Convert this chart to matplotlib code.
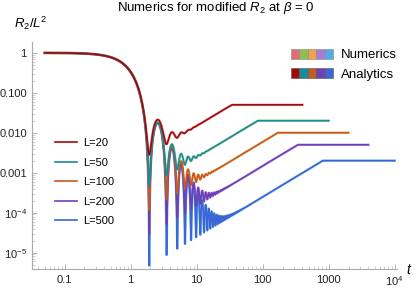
import numpy as np
import matplotlib
matplotlib.use("Agg")
import matplotlib.pyplot as plt
from matplotlib.patches import Patch
from matplotlib.legend_handler import HandlerTuple

plt.rcParams['font.family'] = ['Liberation Sans', 'DejaVu Sans']
plt.rcParams['mathtext.fontset'] = 'custom'
plt.rcParams['mathtext.rm'] = 'Liberation Sans'
plt.rcParams['mathtext.it'] = 'Liberation Sans:italic'

# values
L_values = [20, 50, 100, 200, 500]
labels = ["L=20", "L=50", "L=100", "L=200", "L=500"]
plateau = [0.05, 0.02, 0.01, 0.005, 0.002]      # R2/L^2 at late times
t_plateau = [34, 84, 169, 339, 810]              # end of the linear ramp
t_end = [400, 1000, 2000, 4000, 10000]           # last time plotted
t_start = 0.05

analytic_colors = ["#a00a0a", "#178c9c", "#c45b20", "#6e40b5", "#3a66d6"]
numeric_colors = ["#e46a78", "#8cc152", "#f5a04c", "#a97bd9", "#4daee0"]


def bessel_j1(x):
    # J1 from its integral form, trapezoid on a periodic integrand
    tau = np.linspace(0, 2 * np.pi, 1024, endpoint=False)
    out = np.zeros_like(x)
    for i in range(0, len(x), 1000):
        xs = x[i:i + 1000]
        out[i:i + 1000] = np.mean(np.cos(tau[None, :] - xs[:, None] * np.sin(tau[None, :])), axis=1)
    return out


t = np.geomspace(t_start, max(t_end), 12000)
decay = np.zeros_like(t)
early = t <= 200
decay[early] = (bessel_j1(2 * t[early]) / t[early]) ** 2

fig = plt.figure(figsize=(4.15, 2.94), dpi=100)
ax = fig.add_axes([0.078, 0.085, 0.879, 0.772])

for i, L in enumerate(L_values):
    m = t <= t_end[i]
    ramp = plateau[i] * np.minimum(t[m] / t_plateau[i], 1.0)
    r = decay[m] + ramp
    ax.plot(t[m], r, color=numeric_colors[i], lw=1.8, alpha=0.6, zorder=2 - 0.1 * i)
    ax.plot(t[m], r, color=analytic_colors[i], lw=1.2, zorder=3 - 0.1 * i, label=labels[i])

ax.set_xscale('log')
ax.set_yscale('log')
ax.set_xlim(0.0325, 10900)
ax.set_ylim(10 ** -5.41, 10 ** 0.27)

ax.set_xticks([0.1, 1, 10, 100, 1000, 10000])
ax.set_xticklabels(["0.1", "1", "10", "100", "1000", "$10^4$"])
ax.set_yticks([1, 0.1, 0.01, 0.001, 1e-4, 1e-5])
ax.set_yticklabels(["1", "0.100", "0.010", "0.001", "$10^{-4}$", "$10^{-5}$"])

for s in ['top', 'right']:
    ax.spines[s].set_visible(False)
for s in ['left', 'bottom']:
    ax.spines[s].set_color('#aaaaaa')
    ax.spines[s].set_linewidth(0.8)
ax.tick_params(which='major', direction='in', length=3.5, width=0.6, color='#aaaaaa',
               labelsize=8, pad=4, labelcolor='#222222')
ax.tick_params(which='minor', direction='in', length=2, width=0.5, color='#bbbbbb')

fig.text(0.52, 0.972, r"Numerics for modified $R_2$ at $\beta$ = 0", ha='center', va='center', fontsize=9.5)
fig.text(0.034, 0.922, r"$R_2/L^2$", ha='left', va='center', fontsize=9.5)
fig.text(0.978, 0.082, r"$t$", ha='left', va='center', fontsize=10)

leg1 = ax.legend(loc='upper left', bbox_to_anchor=(0.035, 0.62), frameon=False, fontsize=8,
                 handlelength=1.95, handletextpad=0.6, labelspacing=0.85)
ax.add_artist(leg1)

num_handle = tuple(Patch(facecolor=c, edgecolor='#888888', lw=0.4) for c in numeric_colors)
ana_handle = tuple(Patch(facecolor=c, edgecolor='#555555', lw=0.4) for c in analytic_colors)
ax.legend([num_handle, ana_handle], ["Numerics", "Analytics"],
          handler_map={tuple: HandlerTuple(ndivide=None, pad=0)},
          loc='upper left', bbox_to_anchor=(0.709, 0.97), frameon=False, fontsize=9.5,
          borderaxespad=0, borderpad=0,
          handlelength=3.2, handleheight=0.8, handletextpad=0.6, labelspacing=0.5)

fig.savefig("out.png", dpi=100)
